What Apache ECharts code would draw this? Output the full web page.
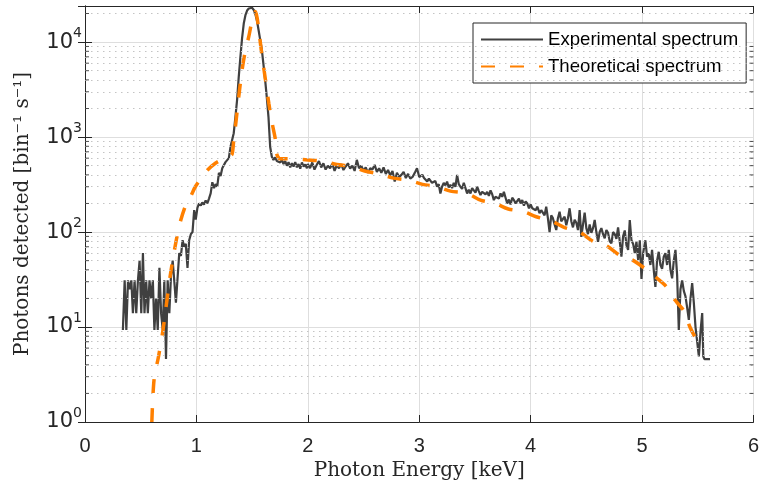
<!DOCTYPE html>
<html>
<head>
<meta charset="utf-8">
<script src="https://cdn.jsdelivr.net/npm/echarts@6.0.0/dist/echarts.min.js"></script>
<style>
html, body { margin: 0; padding: 0; background: #fff; }
#box { width: 762px; height: 487px; }
</style>
</head>
<body>
<div id="box"></div>
<script>
var mychart = echarts.init(document.getElementById("box"));

// x ticks (keV) and y decades
var xTicks = [0, 1, 2, 3, 4, 5, 6];
var yMin = 1, yMax = 24000;
var minorTicks = [2, 3, 4, 5, 6, 7, 8, 9, 20, 30, 40, 50, 60, 70, 80, 90,
    200, 300, 400, 500, 600, 700, 800, 900, 2000, 3000, 4000, 5000, 6000, 7000, 8000, 9000, 20000];

// [energy keV, photons / bin / s]
var expData = [
    [0.34, 9.3], [0.356, 31], [0.371, 9.3], [0.386, 31], [0.40, 25], [0.416, 31], [0.43, 14], [0.445, 31],
    [0.46, 14], [0.475, 31], [0.49, 50], [0.505, 14], [0.52, 60], [0.534, 14], [0.549, 31], [0.564, 14],
    [0.579, 31], [0.594, 20], [0.609, 31], [0.623, 9.3], [0.638, 20], [0.653, 9.3], [0.668, 42], [0.683, 14],
    [0.698, 9.3], [0.712, 31], [0.727, 4.6], [0.742, 31], [0.757, 14], [0.772, 35], [0.787, 50], [0.801, 31],
    [0.816, 18], [0.831, 33], [0.846, 60], [0.861, 56], [0.876, 82], [0.89, 70], [0.905, 75], [0.92, 42],
    [0.935, 82], [0.95, 95], [0.965, 100], [0.98, 170], [0.994, 135], [1.009, 180], [1.024, 200], [1.04, 190],
    [1.053, 205], [1.068, 195], [1.083, 215], [1.098, 200], [1.113, 225], [1.128, 255], [1.143, 335], [1.158, 290],
    [1.172, 320], [1.187, 300], [1.202, 420], [1.217, 390], [1.232, 470], [1.247, 450], [1.261, 545], [1.276, 520],
    [1.291, 600], [1.306, 790], [1.32, 820], [1.335, 1100], [1.35, 1620], [1.365, 2450], [1.38, 4300], [1.395, 7000],
    [1.41, 11000], [1.425, 15700], [1.44, 19200], [1.455, 21500], [1.47, 22600], [1.485, 23100], [1.499, 23000], [1.515, 21800],
    [1.53, 19500], [1.545, 16500], [1.558, 13400], [1.573, 10500], [1.588, 8200], [1.602, 5800], [1.617, 4000], [1.632, 2600],
    [1.647, 1620], [1.662, 790], [1.677, 620], [1.692, 575], [1.707, 610], [1.722, 560], [1.737, 585], [1.752, 540],
    [1.767, 575], [1.782, 520], [1.797, 560], [1.812, 500], [1.827, 545], [1.842, 480], [1.857, 530], [1.872, 490],
    [1.887, 545], [1.902, 480], [1.917, 520], [1.932, 465], [1.947, 540], [1.962, 490], [1.977, 515], [1.992, 470],
    [2.00, 520], [2.02, 470], [2.04, 540], [2.06, 455], [2.08, 510], [2.10, 560], [2.12, 480], [2.14, 530],
    [2.16, 455], [2.18, 500], [2.20, 470], [2.22, 525], [2.24, 440], [2.26, 505], [2.28, 470], [2.30, 520],
    [2.32, 450], [2.34, 490], [2.36, 530], [2.38, 465], [2.40, 500], [2.42, 440], [2.44, 575], [2.46, 470],
    [2.48, 500], [2.50, 440], [2.52, 480], [2.54, 420], [2.56, 470], [2.58, 455], [2.60, 510], [2.62, 430],
    [2.64, 470], [2.66, 420], [2.68, 480], [2.70, 410], [2.72, 450], [2.74, 395], [2.76, 440], [2.78, 340],
    [2.80, 420], [2.82, 380], [2.84, 400], [2.86, 430], [2.88, 370], [2.90, 410], [2.92, 365], [2.94, 380],
    [2.96, 420], [2.98, 470], [3.00, 380], [3.013, 380], [3.028, 400], [3.043, 370], [3.058, 385], [3.072, 340],
    [3.087, 365], [3.10, 350], [3.115, 330], [3.13, 315], [3.145, 345], [3.16, 300], [3.175, 320], [3.19, 255],
    [3.205, 300], [3.22, 330], [3.235, 310], [3.25, 340], [3.265, 295], [3.28, 315], [3.295, 290], [3.31, 330],
    [3.325, 300], [3.34, 400], [3.355, 320], [3.37, 300], [3.385, 285], [3.40, 330], [3.415, 290], [3.43, 255],
    [3.445, 280], [3.46, 255], [3.475, 290], [3.49, 275], [3.505, 260], [3.52, 300], [3.535, 270], [3.55, 245],
    [3.565, 265], [3.58, 275], [3.595, 250], [3.61, 265], [3.625, 240], [3.64, 275], [3.655, 250], [3.67, 217],
    [3.685, 235], [3.70, 245], [3.715, 225], [3.73, 255], [3.745, 235], [3.76, 265], [3.775, 230], [3.79, 200],
    [3.805, 220], [3.82, 195], [3.835, 230], [3.85, 217], [3.865, 200], [3.88, 207], [3.895, 225], [3.91, 200],
    [3.925, 217], [3.94, 190], [3.955, 210], [3.97, 200], [3.985, 178], [4.00, 195], [4.015, 178], [4.03, 185],
    [4.045, 170], [4.06, 185], [4.08, 158], [4.095, 170], [4.11, 178], [4.125, 150], [4.14, 185], [4.155, 140],
    [4.17, 100], [4.185, 150], [4.20, 140], [4.215, 120], [4.23, 105], [4.245, 140], [4.26, 164], [4.275, 130],
    [4.29, 125], [4.305, 145], [4.32, 118], [4.335, 140], [4.35, 178], [4.365, 130], [4.38, 112], [4.395, 135],
    [4.41, 125], [4.425, 105], [4.44, 170], [4.455, 89], [4.47, 120], [4.485, 160], [4.50, 110], [4.515, 95],
    [4.53, 120], [4.545, 98], [4.56, 110], [4.575, 134], [4.59, 100], [4.605, 79], [4.62, 100], [4.635, 110],
    [4.65, 95], [4.665, 86], [4.68, 105], [4.695, 98], [4.71, 80], [4.725, 76], [4.74, 100], [4.755, 95],
    [4.77, 85], [4.785, 112], [4.80, 80], [4.815, 55], [4.83, 90], [4.845, 104], [4.86, 73], [4.875, 65],
    [4.89, 134], [4.905, 82], [4.92, 75], [4.935, 60], [4.95, 79], [4.965, 51], [4.98, 82], [4.995, 32],
    [5.01, 60], [5.03, 82], [5.045, 55], [5.06, 60], [5.075, 45], [5.09, 65], [5.105, 40], [5.12, 26.5],
    [5.135, 50], [5.15, 62], [5.165, 45], [5.18, 41], [5.195, 55], [5.21, 60], [5.225, 45], [5.24, 65],
    [5.255, 40], [5.27, 32.5], [5.285, 50], [5.30, 65], [5.315, 35], [5.33, 9.3], [5.345, 25], [5.36, 31],
    [5.375, 24], [5.39, 21], [5.405, 16], [5.42, 11.9], [5.435, 20], [5.45, 29], [5.465, 18], [5.48, 10],
    [5.495, 7], [5.51, 4.9], [5.525, 9], [5.54, 14], [5.55, 4.9], [5.56, 4.6], [5.61, 4.6]
];

var theoData = [
    [0.60, 1.0], [0.62, 2.8], [0.66, 4.9], [0.70, 9.3], [0.74, 21], [0.77, 38], [0.82, 83], [0.86, 134],
    [0.91, 200], [0.95, 240], [0.99, 300], [1.05, 380], [1.10, 450], [1.17, 530], [1.23, 580], [1.29, 620],
    [1.32, 660], [1.335, 930], [1.35, 1280], [1.38, 2660], [1.41, 5100], [1.44, 8200], [1.47, 11400], [1.50, 17000],
    [1.52, 19500], [1.53, 21000], [1.545, 18000], [1.56, 13400], [1.59, 7000], [1.62, 4000], [1.65, 2270], [1.68, 1400],
    [1.71, 930], [1.72, 670], [1.75, 590], [1.80, 590], [1.90, 585], [2.00, 575], [2.12, 560], [2.26, 515],
    [2.39, 490], [2.51, 440], [2.64, 410], [2.77, 370], [2.91, 350], [3.03, 318], [3.16, 300], [3.28, 270],
    [3.43, 255], [3.55, 217], [3.68, 200], [3.80, 175], [3.93, 165], [4.05, 145], [4.19, 130], [4.30, 112],
    [4.44, 100], [4.56, 80], [4.68, 72], [4.80, 57], [4.91, 51], [5.03, 41], [5.13, 33], [5.22, 26.5],
    [5.30, 19], [5.38, 14.5], [5.43, 10], [5.49, 7.3]
];

var axisColor = '#262626';
var tickFont = 'Liberation Sans';
var texFont = 'DejaVu Serif';

var options = {
    animation: false,
    backgroundColor: '#fff',
    grid: {
        left: 85,
        right: 2,
        top: 6,
        bottom: 65
    },
    legend: {
        data: ['Experimental spectrum', 'Theoretical spectrum'],
        orient: 'vertical',
        left: 473,
        top: 23,
        itemWidth: 62,
        itemHeight: 14,
        itemGap: 8,
        padding: [7, 8, 7, 7],
        backgroundColor: '#fff',
        borderColor: axisColor,
        borderWidth: 1,
        itemStyle: { opacity: 0 },
        textStyle: {
            fontFamily: tickFont,
            fontSize: 18.6,
            color: '#000'
        }
    },
    xAxis: [{
        type: 'value',
        min: xTicks[0],
        max: xTicks[xTicks.length - 1],
        interval: 1,
        name: 'Photon Energy [keV]',
        nameLocation: 'middle',
        nameGap: 33,
        nameTextStyle: {
            fontFamily: texFont,
            fontSize: 20,
            color: axisColor
        },
        axisLine: { lineStyle: { color: axisColor, width: 1 } },
        axisTick: { inside: true, length: 7, lineStyle: { color: axisColor } },
        axisLabel: {
            margin: 14,
            fontFamily: tickFont,
            fontSize: 20,
            color: axisColor
        },
        splitLine: { show: true, lineStyle: { color: '#dedede', width: 1 } }
    }, {
        type: 'value',
        position: 'top',
        min: xTicks[0],
        max: xTicks[xTicks.length - 1],
        interval: 1,
        axisLine: { lineStyle: { color: axisColor, width: 1 } },
        axisTick: { inside: true, length: 7, lineStyle: { color: axisColor } },
        axisLabel: { show: false },
        splitLine: { show: false }
    }],
    yAxis: [{
        type: 'log',
        logBase: 10,
        min: yMin,
        max: yMax,
        name: 'Photons detected [bin\u207B\u00B9 s\u207B\u00B9]',
        nameLocation: 'middle',
        nameGap: 52,
        nameTextStyle: {
            fontFamily: texFont,
            fontSize: 20,
            color: axisColor
        },
        axisLine: { show: true, lineStyle: { color: axisColor, width: 1 } },
        axisTick: { show: true, inside: true, length: 7, lineStyle: { color: axisColor } },
        axisLabel: {
            margin: 3,
            color: axisColor,
            formatter: function (v) {
                var e = Math.log10(v);
                if (Math.abs(e - Math.round(e)) > 1e-6) return '';
                return '{b|10}{e|' + Math.round(e) + '}';
            },
            rich: {
                b: { fontFamily: 'DejaVu Sans', fontSize: 21, color: axisColor },
                e: { fontFamily: 'DejaVu Sans', fontSize: 14, color: axisColor, padding: [0, 0, 18, 0] }
            }
        },
        splitLine: { show: true, lineStyle: { color: '#dedede', width: 1 } }
    }, {
        type: 'log',
        logBase: 10,
        min: yMin,
        max: yMax,
        position: 'right',
        axisLine: { show: true, lineStyle: { color: axisColor, width: 1 } },
        axisTick: { show: true, inside: true, length: 7, lineStyle: { color: axisColor } },
        axisLabel: { show: false },
        splitLine: { show: false }
    }],
    series: [{
        name: 'minor grid',
        type: 'line',
        data: [],
        silent: true,
        z: 1,
        markLine: {
            silent: true,
            symbol: 'none',
            animation: false,
            label: { show: false },
            lineStyle: { color: '#c4c4c4', width: 1, type: [1.5, 4.5] },
            data: minorTicks.map(function (v) { return { yAxis: v }; })
        }
    }, {
        name: 'minor ticks left',
        type: 'scatter',
        silent: true,
        clip: false,
        symbol: 'rect',
        symbolSize: [4, 1],
        symbolOffset: [2, 0],
        itemStyle: { color: axisColor },
        z: 5,
        data: minorTicks.map(function (v) { return [xTicks[0], v]; })
    }, {
        name: 'minor ticks right',
        type: 'scatter',
        silent: true,
        clip: false,
        symbol: 'rect',
        symbolSize: [4, 1],
        symbolOffset: [-2, 0],
        itemStyle: { color: axisColor },
        z: 5,
        data: minorTicks.map(function (v) { return [xTicks[xTicks.length - 1], v]; })
    }, {
        name: 'Experimental spectrum',
        type: 'line',
        symbol: 'none',
        z: 3,
        lineStyle: { color: '#404040', width: 2.2 },
        itemStyle: { color: '#404040' },
        data: expData
    }, {
        name: 'Theoretical spectrum',
        type: 'line',
        symbol: 'none',
        smooth: 0.3,
        z: 4,
        lineStyle: { color: '#ff8000', width: 3.5, type: [14, 15], cap: 'butt' },
        itemStyle: { color: '#ff8000' },
        data: theoData
    }]
};

mychart.setOption(options);
</script>
</body>
</html>
